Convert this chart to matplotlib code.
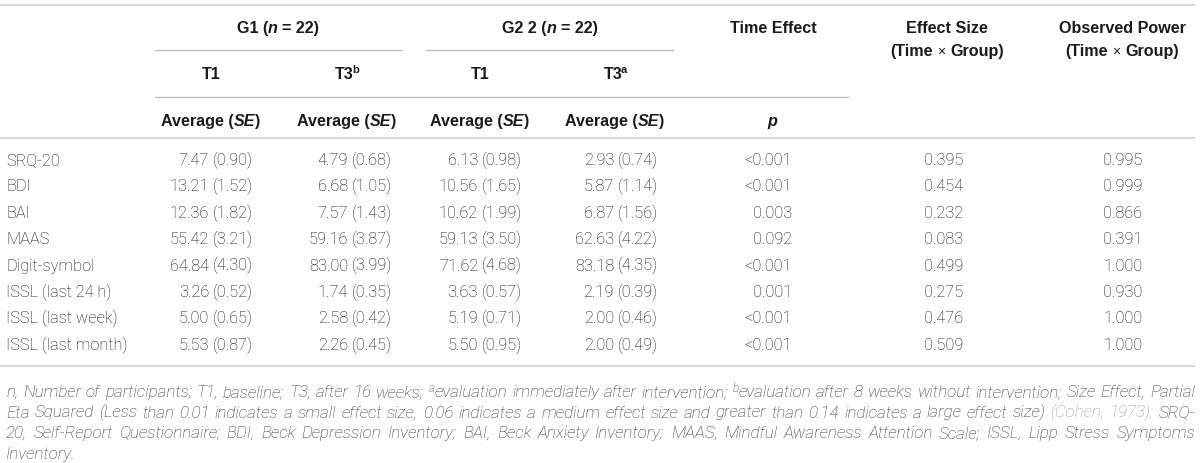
import matplotlib
matplotlib.use("Agg")
import matplotlib.pyplot as plt
from matplotlib import font_manager

# table data
measures = ["SRQ-20", "BDI", "BAI", "MAAS", "Digit-symbol",
            "ISSL (last 24 h)", "ISSL (last week)", "ISSL (last month)"]
g1_t1_mean = [7.47, 13.21, 12.36, 55.42, 64.84, 3.26, 5.00, 5.53]
g1_t1_se = [0.90, 1.52, 1.82, 3.21, 4.30, 0.52, 0.65, 0.87]
g1_t3_mean = [4.79, 6.68, 7.57, 59.16, 83.00, 1.74, 2.58, 2.26]
g1_t3_se = [0.68, 1.05, 1.43, 3.87, 3.99, 0.35, 0.42, 0.45]
g2_t1_mean = [6.13, 10.56, 10.62, 59.13, 71.62, 3.63, 5.19, 5.50]
g2_t1_se = [0.98, 1.65, 1.99, 3.50, 4.68, 0.57, 0.71, 0.95]
g2_t3_mean = [2.93, 5.87, 6.87, 62.63, 83.18, 2.19, 2.00, 2.00]
g2_t3_se = [0.74, 1.14, 1.56, 4.22, 4.35, 0.39, 0.46, 0.49]
p_time = ["<0.001", "<0.001", "0.003", "0.092", "<0.001", "0.001", "<0.001", "<0.001"]
effect_size = [0.395, 0.454, 0.232, 0.083, 0.499, 0.275, 0.476, 0.509]
obs_power = [0.995, 0.999, 0.866, 0.391, 1.000, 0.930, 1.000, 1.000]

footnote = [
    "n, Number of participants; T1, baseline; T3, after 16 weeks; ^aevaluation immediately after "
    "intervention; ^bevaluation after 8 weeks without intervention; Size Effect, Partial",
    "Eta Squared (Less than 0.01 indicates a small effect size, 0.06 indicates a medium effect size "
    "and greater than 0.14 indicates a large effect size) (Cohen, 1973); SRQ-",
    "20, Self-Report Questionnaire; BDI, Beck Depression Inventory; BAI, Beck Anxiety Inventory; "
    "MAAS, Mindful Awareness Attention Scale; ISSL, Lipp Stress Symptoms",
    "Inventory.",
]
gray_words = ["(Cohen,", "1973);"]

# fonts
names = {f.name for f in font_manager.fontManager.ttflist}
head_font = "Liberation Sans"
body_font = "Roboto"
foot_font = "Liberation Sans Narrow" if "Liberation Sans Narrow" in names else "Roboto"

TXT = "#111111"
RULE = "#d9d9d9"

fig = plt.figure(figsize=(12, 4.63), dpi=100)
ax = fig.add_axes([0, 0, 1, 1])
ax.set_xlim(0, 1200)
ax.set_ylim(463, 0)
ax.axis("off")
renderer = fig.canvas.get_renderer()

head = dict(family=head_font, fontweight="bold", fontsize=11.6, color="#1a1a1a")
body = dict(family=body_font, fontweight="light", fontsize=11.8, color=TXT)


def width_of(t):
    return t.get_window_extent(renderer).width


def space_width(props):
    a = ax.text(0, 0, "x x", **props)
    b = ax.text(0, 0, "xx", **props)
    w = width_of(a) - width_of(b)
    a.remove()
    b.remove()
    return w


def rich(x, y, runs, base, ha="center"):
    # runs: (text, extra props); text None means a space
    sp = space_width(base)
    items = []
    for txt, kw in runs:
        if txt is None:
            items.append((None, sp, 0))
            continue
        props = dict(base)
        props.update(kw)
        dy = props.pop("dy", 0)
        dx = props.pop("dx", 0)
        t = ax.text(0, y + dy, txt, va="baseline", ha="left", **props)
        items.append((t, width_of(t) + dx, dx))
    total = sum(w for _, w, _ in items)
    pos = x - total / 2 if ha == "center" else (x - total if ha == "right" else x)
    for t, w, dx in items:
        if t is not None:
            t.set_x(pos + dx)
        pos += w


sup = dict(fontsize=8, dy=-6, dx=-2)
it = dict(fontstyle="italic")

# column layout (pixels)
col_center = [211, 347, 480, 615]
col_right = [253, 392, 522, 658]
p_center, p_right = 772, 792
es_center, pw_center = 944, 1123

# rules
ax.plot([0, 1194], [5, 5], color=RULE, lw=1.6)
ax.plot([155, 402], [50, 50], color="#bdbdbd", lw=1.0)
ax.plot([426, 673], [50, 50], color="#bdbdbd", lw=1.0)
ax.plot([155, 848], [97, 97], color="#bdbdbd", lw=1.0)
ax.plot([0, 1194], [138, 138], color=RULE, lw=1.6)

# header row 1
rich(278, 33, [("G1 (", {}), ("n", it), (None, {}), ("= 22)", {})], head)
rich(550, 33, [("G2 2 (", {}), ("n", it), (None, {}), ("= 22)", {})], head)
rich(773, 33, [("Time Effect", {})], head)
rich(947, 33, [("Effect Size", {})], head)
rich(1122, 33, [("Observed Power", {})], head)
for cx in (947, 1122):
    rich(cx, 56, [("(Time", {}), (None, {}), ("\u00d7", dict(fontweight="normal", fontsize=10)),
                  (None, {}), ("Group)", {})], head)

# header row 2
rich(col_center[0], 79, [("T1", {})], head)
rich(col_center[1], 79, [("T3", {}), ("b", sup)], head)
rich(col_center[2], 79, [("T1", {})], head)
rich(col_center[3], 79, [("T3", {}), ("a", sup)], head)

# header row 3
for cx in col_center:
    rich(cx, 126, [("Average (", {}), ("SE", it), (")", {})], head)
rich(p_center, 126, [("p", it)], head)

# body rows
row0, row_step = 165, 26.4
means = [g1_t1_mean, g1_t3_mean, g2_t1_mean, g2_t3_mean]
ses = [g1_t1_se, g1_t3_se, g2_t1_se, g2_t3_se]
for i, name in enumerate(measures):
    y = row0 + i * row_step
    ax.text(6, y, name, va="baseline", ha="left", **body)
    for c in range(4):
        rich(col_right[c], y, [(f"{means[c][i]:.2f}", {}), (None, {}),
                               (f"({ses[c][i]:.2f})", {})], body, ha="right")
    ax.text(p_right, y, p_time[i], va="baseline", ha="right", **body)
    ax.text(es_center, y, f"{effect_size[i]:.3f}", va="baseline", ha="center", **body)
    ax.text(pw_center, y, f"{obs_power[i]:.3f}", va="baseline", ha="center", **body)

ax.plot([0, 1194], [366, 366], color=RULE, lw=1.6)

# footnote, justified; font size chosen so the fullest line just fits
x_left, x_right = 6, 1195
probe = dict(family=foot_font, fontstyle="italic", fontweight="light", fontsize=10)
widest = 0
for line in footnote[:-1]:
    t = ax.text(0, 0, line.replace("^", ""), **probe)
    widest = max(widest, width_of(t))
    t.remove()
foot_size = 10 * (x_right - x_left - 12) / widest
foot = dict(probe, fontsize=foot_size, color="#333333")

for li, line in enumerate(footnote):
    y = 397 + li * 20.5
    placed = []
    for w in line.split(" "):
        parts = []
        color = "#9a9a9a" if w in gray_words else foot["color"]
        if w.startswith("^"):
            parts.append(ax.text(0, y - 5, w[1], va="baseline", ha="left",
                                 **dict(foot, fontsize=foot_size * 0.7)))
            w = w[2:]
        parts.append(ax.text(0, y, w, va="baseline", ha="left", **dict(foot, color=color)))
        placed.append([(t, width_of(t)) for t in parts])
    total = sum(w for p in placed for _, w in p)
    if li < len(footnote) - 1:
        gap = (x_right - x_left - total) / (len(placed) - 1)
    else:
        gap = space_width(foot)
    pos = x_left
    for p in placed:
        for t, w in p:
            t.set_x(pos)
            pos += w
        pos += gap

fig.savefig("out.png", dpi=100)
